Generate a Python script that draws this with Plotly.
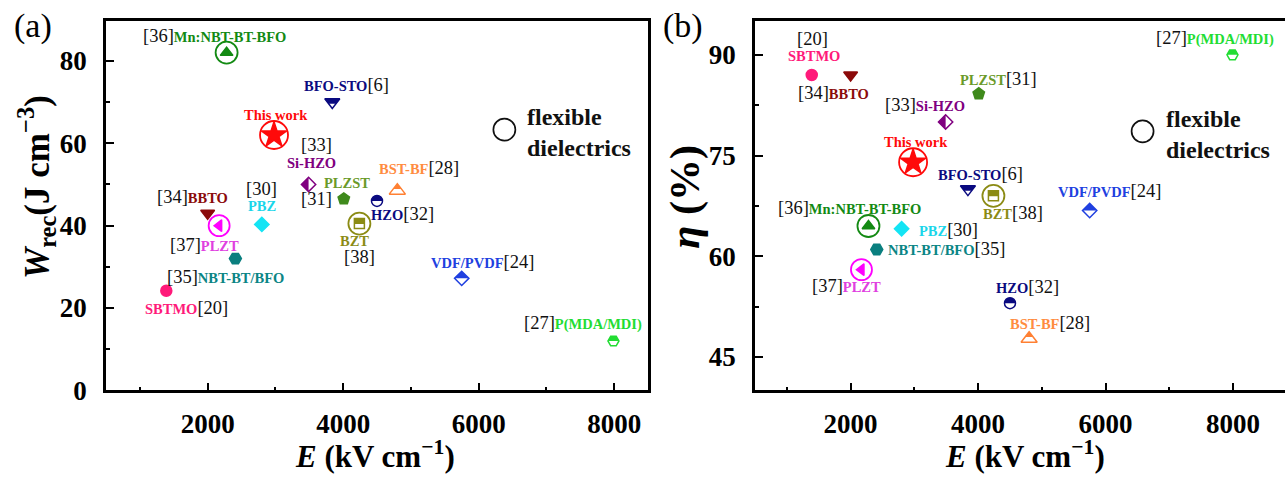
import math
import plotly.graph_objects as go

# ---------------- data ----------------
materials = ["SBTMO", "BBTO", "PLZT", "NBT-BT/BFO", "PBZ", "Mn:NBT-BT-BFO", "This work",
             "BFO-STO", "Si-HZO", "PLZST", "HZO", "BST-BF", "BZT", "VDF/PVDF", "P(MDA/MDI)"]
refs = ["[20]", "[34]", "[37]", "[35]", "[30]", "[36]", "",
        "[6]", "[33]", "[31]", "[32]", "[28]", "[38]", "[24]", "[27]"]
E_field = [1390, 2000, 2170, 2410, 2800, 2280, 2980, 3840, 3490, 4010, 4500, 4800, 4240, 5750, 7990]
W_rec = [24.2, 43.0, 40.0, 32.0, 40.3, 82.0, 62.0, 70.0, 50.0, 46.5, 46.0, 48.5, 40.5, 27.2, 12.0]
efficiency = [87.0, 87.0, 58.0, 61.0, 64.1, 64.5, 74.0, 70.0, 80.0, 84.2, 53.0, 47.7, 69.0, 66.8, 90.0]

flex_E_a, flex_W_a = 6380, 63.3
flex_E_b, flex_eta_b = 6580, 78.6

# ---------------- styles ----------------
SERIF = "Liberation Serif"
STYLE = {
    "SBTMO":         dict(symbol="circle", color="#FF1A7A", label="#FF1A7A", size=11, half=None, ring=None),
    "BBTO":          dict(symbol="triangle-down", color="#8B0A0A", label="#8B0A0A", size=12, half=None, ring=None),
    "PLZT":          dict(symbol="triangle-left", color="#FF00FF", label="#E040E0", size=10, half=None, ring=21),
    "NBT-BT/BFO":    dict(symbol="hexagon2", color="#0A7F7F", label="#0A8585", size=12, half=None, ring=None),
    "PBZ":           dict(symbol="diamond", color="#14E4F4", label="#19D6EA", size=11, half=None, ring=None),
    "Mn:NBT-BT-BFO": dict(symbol="triangle-up", color="#138A13", label="#138A13", size=11, half=None, ring=22),
    "This work":     dict(symbol="star", color="#FF0A0A", label="#FF0A0A", size=19, half=None, ring=28),
    "BFO-STO":       dict(symbol="triangle-down-open", color="#0A0A80", label="#0A0A80", size=13, half="top", ring=None),
    "Si-HZO":        dict(symbol="diamond-open", color="#800080", label="#800080", size=11, half="left", ring=None),
    "PLZST":         dict(symbol="pentagon", color="#3F8A1C", label="#6A9A2A", size=12, half=None, ring=None),
    "HZO":           dict(symbol="circle-open", color="#0A0A80", label="#0A0A80", size=11, half="top", ring=None),
    "BST-BF":        dict(symbol="triangle-up-open", color="#FF8033", label="#FF8C3F", size=14, half="top", ring=None),
    "BZT":           dict(symbol="square-open", color="#8B8B14", label="#8B8B14", size=10, half="top", ring=22),
    "VDF/PVDF":      dict(symbol="diamond-open", color="#2040E0", label="#2040E0", size=11, half="top", ring=None),
    "P(MDA/MDI)":    dict(symbol="hexagon2-open", color="#22DD33", label="#22DD33", size=11, half="top", ring=None),
}

# label layout: (kind, dx, dy, xanchor) ; kind: rn=ref+name, nr=name+ref, r=ref, n=name
LABELS_A = {
    "SBTMO": [("nr", 20, 17, "center")],
    "BBTO": [("rn", -15, -16, "center")],
    "PLZT": [("rn", -15, 19, "center")],
    "NBT-BT/BFO": [("rn", -10, 18, "center")],
    "PBZ": [("r", 0, -35, "center"), ("n", 0, -18, "center")],
    "Mn:NBT-BT-BFO": [("rn", -12, -17, "center")],
    "This work": [("n", 2, -20, "center")],
    "BFO-STO": [("nr", 14, -17, "center")],
    "Si-HZO": [("r", 8, -39, "center"), ("n", 3, -21, "center")],
    "PLZST": [("n", 3, -16, "center"), ("r", -27, 0, "center")],
    "HZO": [("nr", 25, 13, "center")],
    "BST-BF": [("nr", 22, -23, "center")],
    "BZT": [("n", -5, 17, "center"), ("r", 0, 33, "center")],
    "VDF/PVDF": [("nr", 21, -16, "center")],
    "P(MDA/MDI)": [("rn", -30, -18, "center")],
}
LABELS_B = {
    "SBTMO": [("r", 1, -36, "center"), ("n", 2, -19, "center")],
    "BBTO": [("rn", -17, 18, "center")],
    "PLZT": [("rn", -15, 16, "center")],
    "NBT-BT/BFO": [("nr", 9, 0, "left")],
    "PBZ": [("nr", 15, 1, "left")],
    "Mn:NBT-BT-BFO": [("rn", -19, -18, "center")],
    "This work": [("n", 3, -20, "center")],
    "BFO-STO": [("nr", 13, -15, "center")],
    "Si-HZO": [("rn", -21, -17, "center")],
    "PLZST": [("nr", 20, -15, "center")],
    "HZO": [("nr", 18, -16, "center")],
    "BST-BF": [("nr", 21, -16, "center")],
    "BZT": [("nr", 20, 17, "center")],
    "VDF/PVDF": [("nr", 20, -20, "center")],
    "P(MDA/MDI)": [("rn", -17, -17, "center")],
}


def half_points(symbol, size, half):
    r = size / 2.0
    base = symbol.replace("-open", "")
    if base == "circle":
        return [(r * math.cos(math.pi * k / 24), r * math.sin(math.pi * k / 24)) for k in range(25)]
    if base == "triangle-down":
        rt = 2 * r / math.sqrt(3)
        return [(-rt, r / 2), (rt, r / 2), (rt / 2, -r / 4), (-rt / 2, -r / 4)]
    if base == "triangle-up":
        rt = 2 * r / math.sqrt(3)
        return [(0, r), (rt / 2, r / 4), (-rt / 2, r / 4)]
    if base == "diamond":
        rd = 1.3 * r
        if half == "left":
            return [(0, rd), (-rd, 0), (0, -rd)]
        return [(rd, 0), (0, rd), (-rd, 0)]
    if base == "hexagon2":
        return [(-r, 0), (-r / 2, 0.866 * r), (r / 2, 0.866 * r), (r, 0)]
    if base == "square":
        return [(-r, -0.1 * r), (r, -0.1 * r), (r, r), (-r, r)]
    return []


def label_html(kind, name, ref):
    rh = "<span style='font-size:18.5px;color:#111111'>%s</span>" % ref
    nh = "<b>%s</b>" % name
    return {"rn": rh + nh, "nr": nh + rh, "r": rh, "n": nh}[kind]


fig = go.Figure()
shapes = []
annotations = []


def add_panel(xref, yref, yvals, labels, flex_x, flex_y):
    syms = [STYLE[m]["symbol"] for m in materials]
    cols = [STYLE[m]["color"] for m in materials]
    sizes = [STYLE[m]["size"] for m in materials]
    ring_idx = [i for i, m in enumerate(materials) if STYLE[m]["ring"]]
    # rings
    fig.add_trace(go.Scatter(
        x=[E_field[i] for i in ring_idx], y=[yvals[i] for i in ring_idx],
        xaxis=xref, yaxis=yref, mode="markers", cliponaxis=False, hoverinfo="skip",
        marker=dict(symbol="circle-open", opacity=1,
                    size=[STYLE[materials[i]]["ring"] for i in ring_idx],
                    color=[STYLE[materials[i]]["color"] for i in ring_idx],
                    line=dict(width=1.8, color=[STYLE[materials[i]]["color"] for i in ring_idx]))))
    # main markers
    fig.add_trace(go.Scatter(
        x=E_field, y=yvals, xaxis=xref, yaxis=yref, mode="markers", cliponaxis=False,
        text=materials, hoverinfo="text",
        marker=dict(symbol=syms, size=sizes, color=cols, opacity=1,
                    line=dict(width=1.5, color=cols))))
    # flexible dielectrics key
    fig.add_trace(go.Scatter(
        x=[flex_x], y=[flex_y], xaxis=xref, yaxis=yref, mode="markers", hoverinfo="skip",
        marker=dict(symbol="circle-open", size=22, color="#111111", opacity=1,
                    line=dict(width=1.7, color="#111111"))))
    xr = "x" if xref == "x" else "x2"
    yr = "y" if yref == "y" else "y2"
    annotations.append(dict(xref=xr, yref=yr, x=flex_x, y=flex_y, xshift=21, yshift=-3,
                            xanchor="left", yanchor="middle", align="left", showarrow=False,
                            text="<b>flexible<br>dielectrics</b>",
                            font=dict(family=SERIF, size=24, color="#111111")))
    for i, m in enumerate(materials):
        st = STYLE[m]
        if st["half"]:
            pts = half_points(st["symbol"], st["size"], st["half"])
            path = "M" + " L".join("%.2f,%.2f" % p for p in pts) + " Z"
            shapes.append(dict(type="path", xref=xr, yref=yr, xsizemode="pixel", ysizemode="pixel",
                               xanchor=E_field[i], yanchor=yvals[i], path=path,
                               fillcolor=st["color"], line=dict(width=0), layer="above"))
        for kind, dx, dy, anchor in labels[m]:
            annotations.append(dict(xref=xr, yref=yr, x=E_field[i], y=yvals[i], xshift=dx, yshift=-dy,
                                    xanchor=anchor, yanchor="middle", showarrow=False,
                                    text=label_html(kind, m, refs[i]),
                                    font=dict(family=SERIF, size=14.5, color=st["label"])))


add_panel("x", "y", W_rec, LABELS_A, flex_E_a, flex_W_a)
add_panel("x2", "y2", efficiency, LABELS_B, flex_E_b, flex_eta_b)

W, H = 1285, 481
ydom = [78 / H, 459 / H]
axis_common = dict(showline=True, linecolor="black", linewidth=2.5, ticks="inside", ticklen=8,
                   tickwidth=2, tickcolor="black", showgrid=False, zeroline=False,
                   tickfont=dict(family=SERIF, size=27, color="black", weight="bold"))
minor_common = dict(ticks="inside", ticklen=4, tickwidth=2, tickcolor="black", tick0=0)

fig.update_layout(
    width=W, height=H, margin=dict(l=0, r=0, t=0, b=0),
    plot_bgcolor="white", paper_bgcolor="white", showlegend=False,
    xaxis=dict(domain=[106 / W, 648 / W], range=[500, 8500], anchor="y", mirror=True,
               tick0=0, dtick=2000, ticklabelstandoff=7,
               minor=dict(dtick=1000, **minor_common), **axis_common),
    yaxis=dict(domain=ydom, range=[0, 89.6], anchor="x", mirror=True, tick0=0, dtick=20,
               ticklabelstandoff=11,
               minor=dict(dtick=10, **minor_common), **axis_common),
    xaxis2=dict(domain=[755 / W, 1.0], range=[500, 8814], anchor="y2", mirror=True,
                tick0=0, dtick=2000, ticklabelstandoff=7,
                minor=dict(dtick=1000, **minor_common), **axis_common),
    yaxis2=dict(domain=ydom, range=[40, 95], anchor="x2", tick0=0, dtick=15,
                ticklabelstandoff=11,
                minor=dict(dtick=7.5, **minor_common), **axis_common),
)

# axis titles and panel tags
title_font = dict(family=SERIF, color="black")
annotations += [
    dict(xref="paper", yref="paper", x=37 / W, y=1 - 193 / H, textangle=-90, showarrow=False,
         xanchor="center", yanchor="middle",
         text="<b><i>W</i><sub>rec</sub>(J cm<sup>−3</sup>)</b>", font=dict(size=35, **title_font)),
    dict(xref="paper", yref="paper", x=686 / W, y=1 - 203 / H, textangle=-90, showarrow=False,
         xanchor="center", yanchor="middle",
         text="<b><i>η</i> (%)</b>", font=dict(size=42, **title_font)),
    dict(xref="paper", yref="paper", x=375 / W, y=1 - 469 / H, showarrow=False,
         xanchor="center", yanchor="middle",
         text="<b><i>E</i> (kV cm<sup>−1</sup>)</b>", font=dict(size=31, **title_font)),
    dict(xref="paper", yref="paper", x=1025 / W, y=1 - 469 / H, showarrow=False,
         xanchor="center", yanchor="middle",
         text="<b><i>E</i> (kV cm<sup>−1</sup>)</b>", font=dict(size=31, **title_font)),
    dict(xref="paper", yref="paper", x=33 / W, y=1 - 27 / H, showarrow=False,
         xanchor="center", yanchor="middle", text="(a)", font=dict(size=34, **title_font)),
    dict(xref="paper", yref="paper", x=683 / W, y=1 - 27 / H, showarrow=False,
         xanchor="center", yanchor="middle", text="(b)", font=dict(size=34, **title_font)),
]

fig.update_layout(shapes=shapes, annotations=annotations)
fig.write_html("out.html")
